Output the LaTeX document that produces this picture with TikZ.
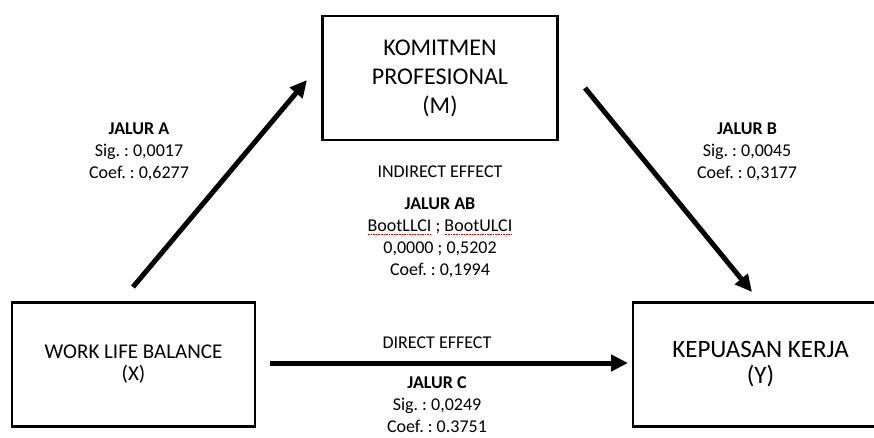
\documentclass[tikz,border=0pt]{standalone}
\usepackage{fontspec}
\setmainfont{Carlito}
\usetikzlibrary{arrows.meta}
\frenchspacing
\newsavebox\spellbox
\newcommand\spellmark[1]{\sbox\spellbox{#1}\rlap{\hbox to \wd\spellbox{\color{red!85!black}\xleaders\hbox{\rule[-0.32ex]{0.9pt}{0.5pt}\hskip0.7pt}\hfill}}\usebox\spellbox}
\begin{document}
\begin{tikzpicture}[
        x=1pt, y=-1pt,
        var box/.style={draw, line width=2.6pt, align=center, inner sep=0pt},
        path label/.style={align=center, font=\fontsize{18}{22}\selectfont},
        effect label/.style={font=\fontsize{18}{22}\selectfont},
        path arrow/.style={draw, line width=5pt, -{Triangle[length=17pt, width=16pt]}}
    ]
	\useasboundingbox (0,0) rectangle (874,437);
	\node[var box, minimum width=243pt, minimum height=124pt, font=\fontsize{21}{22}\selectfont] (x_var) at (133.5,364.5) {WORK LIFE BALANCE\\(X)};
	\node[var box, minimum width=235pt, minimum height=124pt, font=\fontsize{24}{29}\selectfont] (m_var) at (440,78) {KOMITMEN\\PROFESIONAL\\(M)};
	\node[var box, minimum width=255pt, minimum height=124pt, font=\fontsize{25}{26}\selectfont] (y_var) at (760.5,364.5) {KEPUASAN KERJA\\(Y)};
	\coordinate (a_start) at (133,287);
	\coordinate (a_end) at (307,80);
	\coordinate (b_start) at (585,88);
	\coordinate (b_end) at (752,292);
	\coordinate (c_start) at (270,363);
	\coordinate (c_end) at (628,363);
	\draw[path arrow] (a_start) -- (a_end);
	\draw[path arrow] (b_start) -- (b_end);
	\draw[path arrow] (c_start) -- (c_end);
	\node[path label] (a_label) at (139,152) {\textbf{JALUR A}\\Sig. : 0,0017\\Coef. : 0,6277};
	\node[path label] (b_label) at (747,152) {\textbf{JALUR B}\\Sig. : 0,0045\\Coef. : 0,3177};
	\node[effect label] (indirect) at (440,172) {INDIRECT EFFECT};
	\node[path label] (ab_label) at (440,238) {\textbf{JALUR AB}\\\spellmark{BootLLCI} ; \spellmark{BootULCI}\\0,0000 ; 0,5202\\Coef. : 0,1994};
	\node[effect label] (direct) at (437,343) {DIRECT EFFECT};
	\node[path label, inner sep=0pt, font=\fontsize{18}{22}\selectfont] (c_label) at (437,405) {\textbf{JALUR C}\\Sig. : 0,0249\\Coef. : 0.3751};
\end{tikzpicture}
\end{document}
